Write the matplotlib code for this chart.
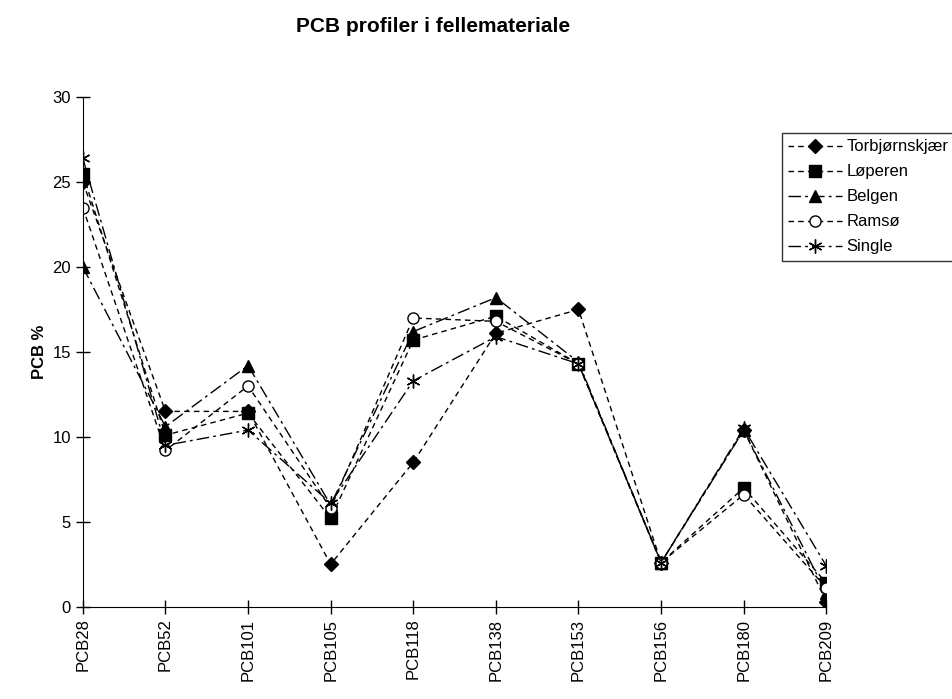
import matplotlib
matplotlib.use("Agg")
import matplotlib.pyplot as plt

plt.rcParams['font.family'] = ['Liberation Sans', 'DejaVu Sans']

categories = ['PCB28', 'PCB52', 'PCB101', 'PCB105', 'PCB118',
              'PCB138', 'PCB153', 'PCB156', 'PCB180', 'PCB209']

torbjornskjaer = [25.0, 11.5, 11.5, 2.5, 8.5, 16.1, 17.5, 2.6, 10.4, 0.3]
loperen = [25.5, 10.1, 11.4, 5.2, 15.7, 17.1, 14.3, 2.6, 7.0, 1.4]
belgen = [20.0, 10.6, 14.2, 6.0, 16.2, 18.2, 14.4, 2.6, 10.4, 0.8]
ramso = [23.5, 9.2, 13.0, 5.8, 17.0, 16.8, 14.3, 2.6, 6.6, 1.1]
single = [26.4, 9.5, 10.4, 6.1, 13.3, 15.9, 14.3, 2.6, 10.5, 2.4]

fig = plt.figure(figsize=(9.52, 6.99), dpi=100)
ax = fig.add_axes([0.087, 0.132, 0.781, 0.729])

x = range(len(categories))
ax.plot(x, torbjornskjaer, color='black', lw=1, dashes=(4, 3),
        marker='D', ms=7, mfc='black', label='Torbjørnskjær')
ax.plot(x, loperen, color='black', lw=1, dashes=(4, 3),
        marker='s', ms=8, mfc='black', label='Løperen')
ax.plot(x, belgen, color='black', lw=1, dashes=(9, 3, 2, 3),
        marker='^', ms=8, mfc='black', label='Belgen')
ax.plot(x, ramso, color='black', lw=1, dashes=(4, 3),
        marker='o', ms=8, mfc='white', mew=1, label='Ramsø')
ax.plot(x, single, color='black', lw=1, dashes=(9, 3, 2, 3),
        marker=(6, 2, 0), ms=10, mew=1, label='Single')

ax.set_xlim(0, len(categories) - 1)
ax.set_ylim(0, 30)
ax.set_yticks([0, 5, 10, 15, 20, 25, 30])
ax.set_xticks(list(x))
ax.set_xticklabels(categories, rotation=90, fontsize=12)
ax.tick_params(axis='y', labelsize=12, direction='inout', length=10, width=1)
ax.tick_params(axis='x', direction='inout', length=10, width=1)
ax.spines['top'].set_visible(False)
ax.spines['right'].set_visible(False)
ax.set_ylabel('PCB %', fontsize=12, fontweight='bold')

fig.suptitle('PCB profiler i fellemateriale', fontsize=15, fontweight='bold',
             x=0.455, y=0.975)

leg = fig.legend(loc='upper left', bbox_to_anchor=(0.821, 0.81),
                 fontsize=12, frameon=True, fancybox=False, edgecolor='black',
                 handlelength=3.2, borderaxespad=0, labelspacing=0.6,
                 handletextpad=0.3)
leg.get_frame().set_linewidth(1)

fig.savefig('out.png', dpi=100)
